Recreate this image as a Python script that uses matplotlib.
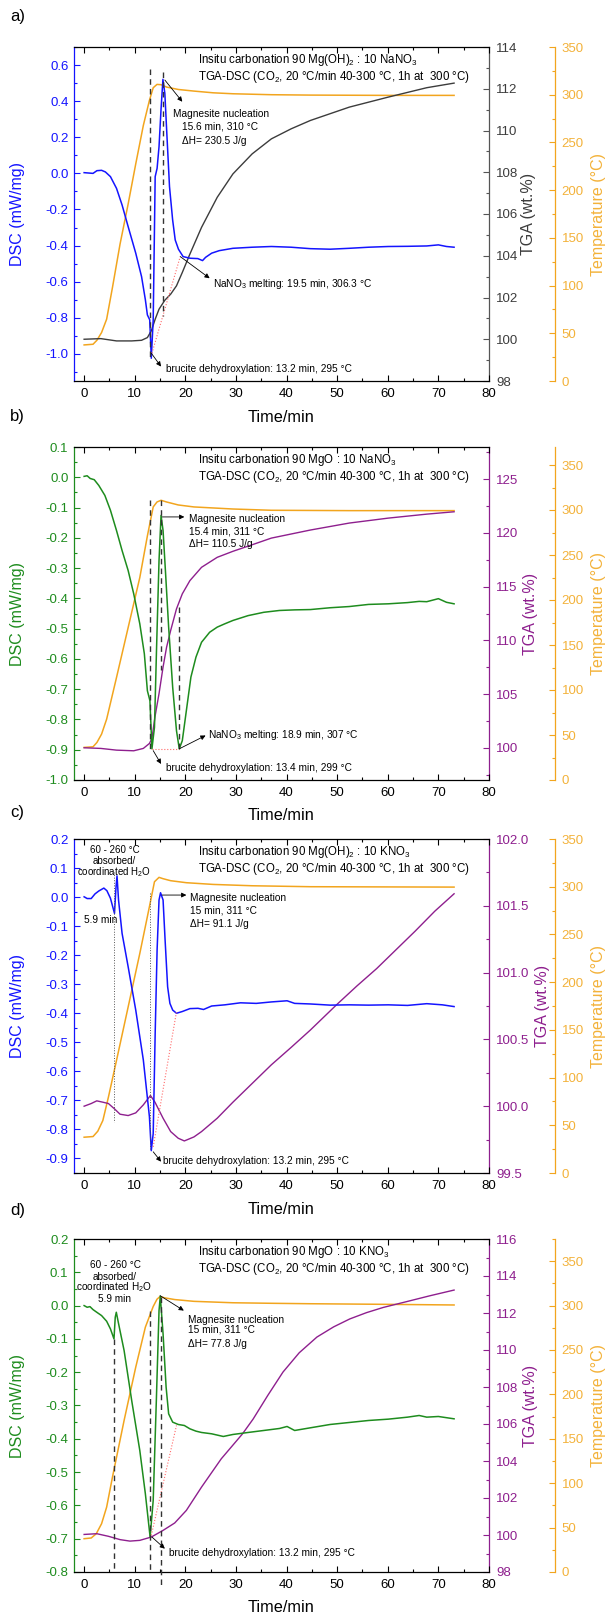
import matplotlib
matplotlib.use("Agg")
import matplotlib.pyplot as plt
from matplotlib.ticker import MultipleLocator, FormatStrFormatter

plt.rcParams["font.family"] = ["Liberation Sans", "DejaVu Sans"]
plt.rcParams["axes.unicode_minus"] = False
plt.rcParams["mathtext.fontset"] = "custom"
plt.rcParams["mathtext.rm"] = "Liberation Sans"

BLUE = "#1414FF"
GREEN = "#1E8C1E"
GREY = "#3C3C3C"
PURPLE = "#8E1F8E"
ORANGE = "#F2A51E"
ORANGE_TXT = "#F3B23A"

# ---- panel a: 90 Mg(OH)2 : 10 NaNO3 ----
A_DSC_T = [0, 1.76, 2.53, 3.45, 4.2, 5.2, 6.4, 7.5, 8.7, 10.2, 11.35, 12.1, 12.5, 12.96,
           13.27, 13.65, 14.04, 14.42, 14.8, 15.19, 15.57, 15.95, 16.34, 16.87, 17.49,
           18.0, 18.64, 19.56, 20.94, 22.47, 23.4, 24.0, 25.2, 26.7, 29.4, 33.2, 37.0,
           40.9, 44.7, 48.6, 52.4, 56.2, 60.1, 63.9, 67.7, 70.0, 71.6, 73.1]
A_DSC = [0.004, 0.0, 0.015, 0.017, 0.008, -0.018, -0.083, -0.175, -0.295, -0.442, -0.572,
         -0.70, -0.784, -0.811, -1.024, -0.811, -0.018, 0.028, 0.148, 0.351, 0.521, 0.443,
         0.222, -0.073, -0.258, -0.369, -0.42, -0.461, -0.47, -0.472, -0.483, -0.465,
         -0.442, -0.428, -0.415, -0.409, -0.405, -0.409, -0.417, -0.42, -0.415, -0.409,
         -0.405, -0.404, -0.402, -0.396, -0.405, -0.409]
A_TGA_T = [0, 3.3, 6.4, 9.4, 11.35, 12.5, 13.27, 14.04, 14.8, 15.95, 17.1, 18.25, 19.4,
           20.9, 23.2, 26.3, 29.4, 33.2, 37.0, 40.9, 44.7, 52.4, 60.1, 67.7, 73.1]
A_TGA = [100.0, 100.03, 99.92, 99.92, 99.95, 100.08, 100.4, 100.96, 101.44, 101.87, 102.16,
         102.56, 103.2, 104.08, 105.36, 106.8, 107.92, 108.88, 109.6, 110.08, 110.48,
         111.12, 111.6, 112.05, 112.27]
A_TEMP_T = [0, 1.76, 2.53, 3.45, 4.45, 5.6, 7.1, 8.7, 10.2, 11.7, 12.9, 13.65, 14.4, 15.2,
            16.3, 18.6, 21.7, 25.5, 29.4, 37.0, 44.7, 60.1, 73.1]
A_TEMP = [37.8, 38.5, 42.7, 50.8, 64.8, 98, 143.5, 185.5, 227.5, 267.8, 294, 307.3, 310.8,
          310.5, 308, 305.5, 303.8, 302, 301, 300, 299.6, 299.3, 299.3]

# ---- panel b: 90 MgO : 10 NaNO3 ----
B_DSC_T = [0, 0.6, 1.2, 2.0, 2.9, 4.1, 5.2, 6.4, 7.5, 8.7, 9.8, 11.0, 11.9, 12.5, 13.0,
           13.4, 13.9, 14.3, 14.8, 15.2, 15.6, 16.1, 16.7, 17.5, 18.25, 18.8, 19.4, 20.2,
           21.1, 22.1, 23.2, 24.8, 26.3, 27.8, 29.4, 32.4, 35.5, 38.6, 41.6, 44.7, 48.6,
           52.4, 56.2, 60.1, 63.9, 66.2, 67.7, 70.0, 71.6, 73.1]
B_DSC = [0.003, 0.005, -0.004, -0.008, -0.027, -0.06, -0.109, -0.176, -0.242, -0.308,
         -0.385, -0.484, -0.583, -0.705, -0.738, -0.897, -0.826, -0.572, -0.275, -0.126,
         -0.176, -0.319, -0.495, -0.694, -0.837, -0.897, -0.87, -0.771, -0.66, -0.594,
         -0.545, -0.512, -0.495, -0.484, -0.473, -0.457, -0.446, -0.44, -0.438, -0.437,
         -0.431, -0.427, -0.42, -0.418, -0.414, -0.41, -0.411, -0.401, -0.413, -0.418]
B_TGA_T = [0, 3.3, 6.4, 9.8, 11.7, 12.9, 13.4, 14.0, 14.8, 15.6, 16.3, 17.1, 18.25, 19.4,
           20.9, 23.2, 26.3, 29.4, 33.2, 37.0, 44.7, 52.4, 60.1, 67.7, 73.1]
B_TGA = [100.0, 99.94, 99.78, 99.72, 99.94, 100.4, 100.87, 102.88, 105.04, 107.52, 109.38,
         110.92, 112.93, 114.33, 115.56, 116.8, 117.73, 118.29, 118.9, 119.52, 120.27,
         120.92, 121.38, 121.75, 121.97]
B_TEMP_T = [0, 1.76, 2.53, 3.45, 4.45, 6.4, 8.7, 11.0, 12.5, 13.65, 14.4, 15.2, 16.3, 18.6,
            21.7, 29.4, 37.0, 52.4, 73.1]
B_TEMP = [36.2, 36.9, 41.7, 51, 67.6, 113.9, 169.4, 224.9, 271.2, 303.4, 308.9, 310.8,
          308.9, 305.6, 303.4, 301.1, 299.7, 299.3, 299.3]

# ---- panel c: 90 Mg(OH)2 : 10 KNO3 ----
C_DSC_T = [0, 0.6, 1.4, 2.15, 2.9, 3.9, 4.5, 5.2, 6.0, 6.3, 6.5, 6.8, 7.5, 8.7, 10.2, 11.7,
           12.9, 13.27, 13.65, 14.04, 14.42, 14.8, 15.1, 15.6, 16.0, 16.5, 16.95, 17.5,
           18.25, 19.4, 20.9, 22.5, 23.6, 25.2, 27.8, 30.9, 34.0, 37.0, 40.1, 41.6, 44.7,
           48.6, 52.4, 56.2, 60.1, 63.9, 67.7, 70.8, 73.1]
C_DSC = [0.001, -0.005, -0.005, 0.011, 0.021, 0.031, 0.022, -0.004, -0.056, 0.034, 0.073,
         -0.01, -0.125, -0.24, -0.389, -0.561, -0.756, -0.873, -0.814, -0.469, -0.182,
         -0.01, 0.015, -0.01, -0.148, -0.309, -0.366, -0.389, -0.4, -0.394, -0.384, -0.383,
         -0.387, -0.375, -0.371, -0.364, -0.366, -0.361, -0.357, -0.366, -0.368, -0.372,
         -0.371, -0.372, -0.371, -0.373, -0.367, -0.371, -0.377]
C_TGA_T = [0, 1.4, 2.5, 3.7, 4.8, 6.0, 7.1, 8.7, 10.2, 11.7, 13.1, 14.0, 15.6, 17.1, 18.6,
           19.8, 21.7, 23.2, 26.3, 29.4, 33.2, 37.0, 40.9, 44.7, 49.9, 53.9, 57.8, 61.6,
           65.4, 69.3, 73.1]
C_TGA = [100.0, 100.02, 100.04, 100.03, 100.02, 99.98, 99.94, 99.93, 99.95, 100.01, 100.08,
         100.03, 99.91, 99.81, 99.76, 99.74, 99.77, 99.81, 99.91, 100.03, 100.17, 100.31,
         100.44, 100.57, 100.76, 100.9, 101.03, 101.17, 101.31, 101.46, 101.59]
C_TEMP_T = [0, 1.76, 2.7, 3.7, 4.8, 6.4, 8.7, 11.0, 12.9, 13.9, 14.8, 15.6, 17.1, 20.2,
            25.5, 33.2, 44.7, 73.1]
C_TEMP = [37.5, 38.2, 43.8, 55, 79.5, 118, 174, 230, 279, 305.2, 309.8, 308.4, 306.3,
          304.2, 302.4, 301, 300, 299.6]

# ---- panel d: 90 MgO : 10 KNO3 ----
D_DSC_T = [0, 0.6, 1.15, 1.76, 2.5, 3.45, 4.45, 5.2, 5.9, 6.15, 6.36, 6.75, 7.9, 9.4, 11.0,
           12.1, 13.04, 13.65, 14.27, 14.8, 15.05, 15.6, 16.2, 16.7, 17.5, 18.6, 19.8, 20.9,
           22.1, 23.2, 25.2, 27.5, 29.4, 32.4, 35.5, 38.6, 40.1, 41.6, 44.7, 48.6, 52.4,
           56.2, 60.1, 63.9, 66.2, 67.7, 70.0, 73.1]
D_DSC = [0.0, -0.005, -0.003, -0.012, -0.02, -0.03, -0.047, -0.07, -0.1, -0.035,
         -0.02, -0.05, -0.135, -0.285, -0.435, -0.565, -0.695, -0.585, -0.285, -0.015,
         0.028, -0.085, -0.245, -0.325, -0.35, -0.357, -0.36, -0.37, -0.377, -0.381,
         -0.385, -0.393, -0.387, -0.381, -0.375, -0.369, -0.363, -0.375, -0.367, -0.357,
         -0.351, -0.345, -0.341, -0.335, -0.33, -0.335, -0.333, -0.34]
D_TGA_T = [0, 2.5, 4.8, 7.1, 9.05, 11.0, 13.27, 15.6, 17.9, 20.2, 23.2, 27.1, 31.3, 33.4,
           36.3, 39.3, 42.5, 46.0, 49.3, 52.5, 55.8, 59.1, 63.8, 68.3, 73.1]
D_TGA = [100.03, 100.07, 99.93, 99.75, 99.67, 99.71, 99.89, 100.25, 100.65, 101.33, 102.59,
         104.12, 105.47, 106.27, 107.55, 108.81, 109.85, 110.7, 111.25, 111.68, 112.02,
         112.3, 112.62, 112.93, 113.24]
D_TEMP_T = [0, 1.4, 2.4, 3.45, 4.45, 5.6, 7.9, 10.2, 12.1, 13.65, 14.4, 15.0, 15.95, 17.9,
            21.7, 29.4, 37.0, 44.7, 60.1, 73.1]
D_TEMP = [37.5, 38.3, 43.1, 54.4, 73.1, 106.9, 170.7, 230.7, 275.7, 299, 307.2, 310.2,
          308.7, 306.8, 304.8, 303.2, 302.6, 302.1, 301.4, 300.7]

TITLE_LINE2 = "TGA-DSC (CO$_2$, 20 °C/min 40-300 °C, 1h at  300 °C)"

fig = plt.figure(figsize=(6.08, 16.16), dpi=100)
LEFT, WIDTH = 74 / 608, 415 / 608
NOTE_SIZE = 7.3


def make_axes(top_px, bottom_px, dsc_color, tga_color, tga_label_color, tga_label_x=1.1):
    rect = [LEFT, 1 - bottom_px / 1616, WIDTH, (bottom_px - top_px) / 1616]
    ax = fig.add_axes(rect)
    ax2 = ax.twinx()
    ax3 = ax.twinx()
    ax3.spines["right"].set_position(("axes", 1.158))
    for a in (ax2, ax3):
        for s in ("left", "top", "bottom"):
            a.spines[s].set_visible(False)
    ax.spines["right"].set_visible(False)
    for a in (ax, ax2, ax3):
        for s in a.spines.values():
            s.set_linewidth(0.9)
    ax.spines["left"].set_color(dsc_color)
    ax2.spines["right"].set_color(tga_color)
    ax3.spines["right"].set_color(ORANGE)

    ax.set_xlim(-2, 80)
    ax.xaxis.set_major_locator(MultipleLocator(10))
    ax.xaxis.set_minor_locator(MultipleLocator(5))
    ax.tick_params(axis="x", which="both", direction="in", top=True, labelsize=9.5, pad=5)
    ax.tick_params(axis="y", which="both", direction="in", right=False, colors=dsc_color,
                   labelsize=9.5, pad=4)
    ax2.tick_params(axis="y", which="both", direction="in", colors=tga_color,
                    labelcolor=tga_label_color, labelsize=9.5, pad=5)
    ax3.tick_params(axis="y", which="both", direction="in", colors=ORANGE,
                    labelcolor=ORANGE_TXT, labelsize=9.5, pad=5)
    for a in (ax, ax2, ax3):
        a.tick_params(which="major", length=4.5, width=0.8)
        a.tick_params(which="minor", length=2.5, width=0.8)
    ax.tick_params(axis="x", colors="black")

    ax.set_xlabel("Time/min", fontsize=11.7)
    ax.xaxis.set_label_coords(0.5, -36 / 334)
    ax.xaxis.label.set_va("center")
    ax.set_ylabel("DSC (mW/mg)", fontsize=11.5, color=dsc_color)
    ax.yaxis.set_label_coords(-0.137, 0.5)
    ax.yaxis.label.set_va("center")
    ax2.set_ylabel("TGA (wt.%)", fontsize=11.5, color=tga_label_color)
    ax2.yaxis.set_label_coords(tga_label_x, 0.5)
    ax2.yaxis.label.set_va("center")
    ax3.set_ylabel("Temperature (°C)", fontsize=11.5, color=ORANGE_TXT)
    ax3.yaxis.set_label_coords(1.263, 0.5)
    ax3.yaxis.label.set_va("center")
    ax3.yaxis.set_major_locator(MultipleLocator(50))
    ax3.yaxis.set_minor_locator(MultipleLocator(25))
    ax3.yaxis.set_major_formatter(FormatStrFormatter("%d"))
    return ax, ax2, ax3


def set_scales(ax, ax2, ax3, dsc_lim, dsc_major, dsc_minor, tga_lim, tga_major, tga_minor,
               tga_fmt, temp_lim):
    ax.set_ylim(*dsc_lim)
    ax.yaxis.set_major_locator(MultipleLocator(dsc_major))
    ax.yaxis.set_minor_locator(MultipleLocator(dsc_minor))
    ax.yaxis.set_major_formatter(FormatStrFormatter("%.1f"))
    ax2.set_ylim(*tga_lim)
    ax2.yaxis.set_major_locator(MultipleLocator(tga_major))
    ax2.yaxis.set_minor_locator(MultipleLocator(tga_minor))
    ax2.yaxis.set_major_formatter(FormatStrFormatter(tga_fmt))
    ax3.set_ylim(*temp_lim)


def titles(ax, line1):
    ax.text(0.2985, 0.962, line1, transform=ax.transAxes, fontsize=8.3,
            va="center", ha="left")
    ax.text(0.2985, 0.91, TITLE_LINE2, transform=ax.transAxes, fontsize=8.3,
            va="center", ha="left")


def note(ax, x, y, s, size=NOTE_SIZE, ha="left"):
    ax.text(x, y, s, fontsize=size, va="center", ha=ha, zorder=6)


def arrow(ax, start, end):
    ax.annotate("", xy=end, xytext=start,
                arrowprops=dict(arrowstyle="-|>", color="black", lw=0.6,
                                mutation_scale=7, shrinkA=0, shrinkB=0), zorder=6)


def vline(ax, t, y0, y1, style="dashed", clip=True):
    if style == "dashed":
        ax.plot([t, t], [y0, y1], color="#333333", lw=1.0, dashes=(4, 3), zorder=5,
                clip_on=clip)
    else:
        ax.plot([t, t], [y0, y1], color="#555555", lw=0.7, ls=":", zorder=5, clip_on=clip)


def redline(ax, p0, p1):
    ax.plot([p0[0], p1[0]], [p0[1], p1[1]], color="#FF6A6A", lw=0.8, ls=":", zorder=4)


def draw_curves(ax, ax2, ax3, dsc_t, dsc, dsc_color, tga_t, tga, tga_color, temp_t, temp):
    ax3.plot(temp_t, temp, color=ORANGE, lw=1.1, zorder=2)
    ax2.plot(tga_t, tga, color=tga_color, lw=1.0, zorder=2)
    ax.plot(dsc_t, dsc, color=dsc_color, lw=1.1, zorder=3)
    ax.set_zorder(3)
    ax.patch.set_visible(False)
    ax2.set_zorder(2)
    ax3.set_zorder(1)


# ---------------- panel a ----------------
ax, ax2, ax3 = make_axes(47, 381, BLUE, "#555555", GREY, tga_label_x=1.096)
set_scales(ax, ax2, ax3, (-1.15, 0.7), 0.2, 0.1, (98, 114), 2, 1, "%d", (0, 350))
draw_curves(ax, ax2, ax3, A_DSC_T, A_DSC, BLUE, A_TGA_T, A_TGA, GREY, A_TEMP_T, A_TEMP)
titles(ax, "Insitu carbonation 90 Mg(OH)$_2$ : 10 NaNO$_3$")
vline(ax, 13.1, 0.58, -1.02)
vline(ax, 15.6, 0.56, -0.79)
redline(ax, (13.4, -0.996), (19.0, -0.46))
arrow(ax, (15.95, 0.517), (19.4, 0.397))
note(ax, 17.5, 0.329, "Magnesite nucleation")
note(ax, 19.25, 0.257, "15.6 min, 310 °C")
note(ax, 19.25, 0.177, "ΔH= 230.5 J/g")
arrow(ax, (19.0, -0.461), (24.8, -0.581))
note(ax, 25.4, -0.61, "NaNO$_3$ melting: 19.5 min, 306.3 °C")
arrow(ax, (13.27, -0.996), (15.2, -1.07))
note(ax, 16.1, -1.083, "brucite dehydroxylation: 13.2 min, 295 °C")

# ---------------- panel b ----------------
ax, ax2, ax3 = make_axes(447, 780, GREEN, PURPLE, PURPLE)
set_scales(ax, ax2, ax3, (-1.0, 0.1), 0.1, 0.05, (97, 128), 5, 2.5, "%d", (0, 370))
draw_curves(ax, ax2, ax3, B_DSC_T, B_DSC, GREEN, B_TGA_T, B_TGA, PURPLE, B_TEMP_T, B_TEMP)
titles(ax, "Insitu carbonation 90 MgO : 10 NaNO$_3$")
vline(ax, 13.1, -0.076, -0.897)
vline(ax, 15.26, -0.076, -0.638)
vline(ax, 18.8, -0.429, -0.897)
redline(ax, (13.4, -0.897), (18.8, -0.897))
arrow(ax, (15.4, -0.131), (19.8, -0.131))
note(ax, 20.7, -0.137, "Magnesite nucleation")
note(ax, 20.7, -0.178, "15.4 min, 311 °C")
note(ax, 20.7, -0.222, "ΔH= 110.5 J/g")
arrow(ax, (18.8, -0.897), (24.0, -0.853))
note(ax, 24.4, -0.851, "NaNO$_3$ melting: 18.9 min, 307 °C")
arrow(ax, (13.65, -0.903), (15.2, -0.947))
note(ax, 16.2, -0.96, "brucite dehydroxylation: 13.4 min, 299 °C")

# ---------------- panel c ----------------
ax, ax2, ax3 = make_axes(839, 1173, BLUE, PURPLE, PURPLE, tga_label_x=1.128)
set_scales(ax, ax2, ax3, (-0.95, 0.2), 0.1, 0.05, (99.5, 102.0), 0.5, 0.25, "%.1f",
           (0, 350))
draw_curves(ax, ax2, ax3, C_DSC_T, C_DSC, BLUE, C_TGA_T, C_TGA, PURPLE, C_TEMP_T, C_TEMP)
titles(ax, "Insitu carbonation 90 Mg(OH)$_2$ : 10 KNO$_3$")
vline(ax, 5.83, 0.0875, -0.773, style="dotted")
vline(ax, 13.1, 0.013, -0.871, style="dotted")
redline(ax, (13.65, -0.86), (18.25, -0.395))
note(ax, 6.0, 0.162, "60 - 260 °C", size=7.0, ha="center")
note(ax, 6.0, 0.124, "absorbed/", size=7.0, ha="center")
note(ax, 6.0, 0.0875, "coordinated H$_2$O", size=7.0, ha="center")
note(ax, 3.3, -0.079, "5.9 min", ha="center")
arrow(ax, (15.4, 0.007), (20.2, 0.007))
note(ax, 20.9, -0.002, "Magnesite nucleation")
note(ax, 20.9, -0.045, "15 min, 311 °C")
note(ax, 20.9, -0.093, "ΔH= 91.1 J/g")
arrow(ax, (13.65, -0.877), (15.2, -0.911))
note(ax, 15.6, -0.908, "brucite dehydroxylation: 13.2 min, 295 °C")

# ---------------- panel d ----------------
ax, ax2, ax3 = make_axes(1239, 1572, GREEN, PURPLE, PURPLE)
set_scales(ax, ax2, ax3, (-0.8, 0.2), 0.1, 0.05, (98, 116), 2, 1, "%d", (0, 375))
draw_curves(ax, ax2, ax3, D_DSC_T, D_DSC, GREEN, D_TGA_T, D_TGA, PURPLE, D_TEMP_T, D_TEMP)
titles(ax, "Insitu carbonation 90 MgO : 10 KNO$_3$")
vline(ax, 5.9, -0.1, -0.8)
vline(ax, 13.0, -0.015, -0.8)
vline(ax, 15.1, 0.025, -0.845, clip=False)
redline(ax, (13.27, -0.69), (18.25, -0.36))
note(ax, 6.2, 0.122, "60 - 260 °C", size=7.2, ha="center")
note(ax, 6.0, 0.087, "absorbed/", size=7.2, ha="center")
note(ax, 5.8, 0.055, "coordinated H$_2$O", size=7.2, ha="center")
note(ax, 6.0, 0.02, "5.9 min", size=7.2, ha="center")
arrow(ax, (15.0, 0.03), (19.7, -0.015))
note(ax, 20.6, -0.042, "Magnesite nucleation")
note(ax, 20.6, -0.072, "15 min, 311 °C")
note(ax, 20.6, -0.116, "ΔH= 77.8 J/g")
arrow(ax, (13.4, -0.695), (15.95, -0.73))
note(ax, 16.7, -0.743, "brucite dehydroxylation: 13.2 min, 295 °C")

for label, y_px in (("a)", 17), ("b)", 417), ("c)", 812), ("d)", 1210)):
    fig.text(10 / 608, 1 - y_px / 1616, label, fontsize=12, va="center", ha="left")

fig.savefig("out.png", dpi=100)
